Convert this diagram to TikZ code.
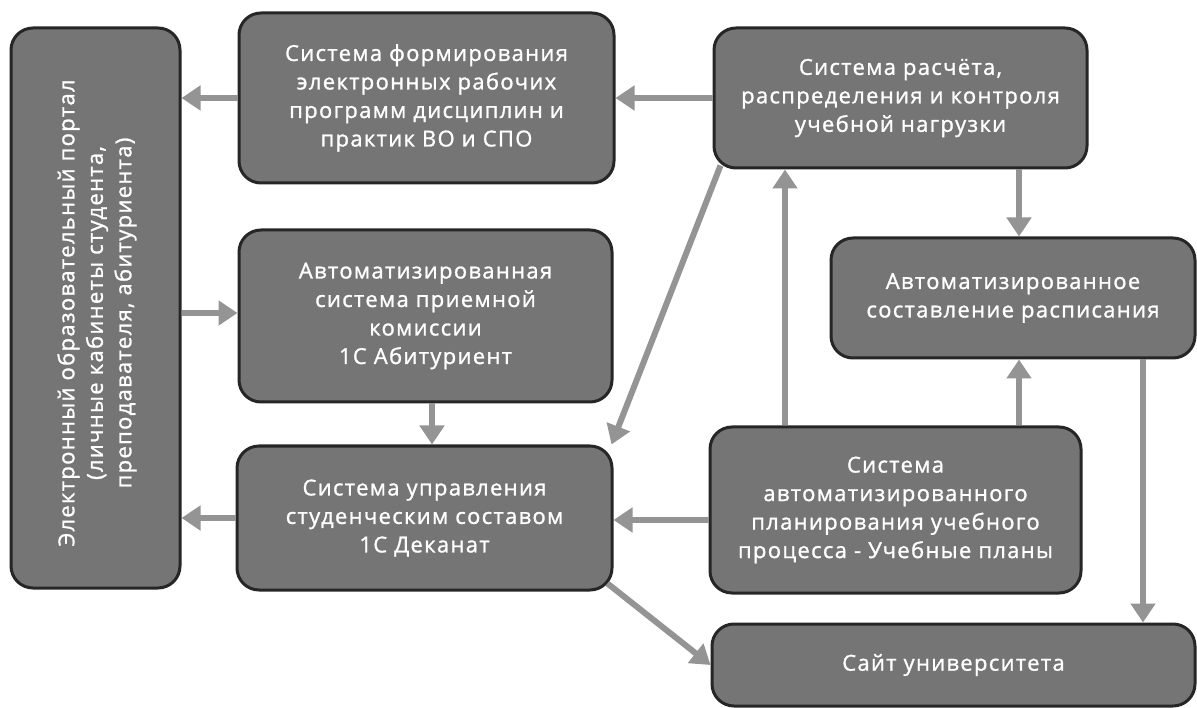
\documentclass[tikz,border=0pt]{standalone}
\usepackage{fontspec}
\setmainfont{Open Sans}[LetterSpace=6,FakeBold=1.2]
\usetikzlibrary{arrows.meta,calc}
\tikzset{
  box/.style={draw=black!85, line width=3pt, fill=black!54, rounded corners=22pt,
    text=white, align=center, font=\fontsize{22}{28.5}\selectfont, inner sep=0pt},
  conn/.style={draw=black!42, line width=6pt, -{Triangle[length=19pt,width=24pt]}},
}
\begin{document}
\begin{tikzpicture}[x=1pt,y=-1pt]
\useasboundingbox (0,0) rectangle (1197,708);
\node[box, minimum width=169pt, minimum height=560pt] (P) at (95.5,308) {};
\node[rotate=90, text=white, align=center, font=\fontsize{22}{28.5}\selectfont] (Pt) at (97,313)
  {Электронный образовательный портал\\(личные кабинеты студента,\\преподавателя, абитуриента)};
\node[box, minimum width=375pt, minimum height=170pt] (A) at (426.5,98)
  {Система формирования\\электронных рабочих\\программ дисциплин и\\практик ВО и СПО};
\node[box, minimum width=373pt, minimum height=140pt] (B) at (900.5,98)
  {Система расчёта,\\распределения и контроля\\учебной нагрузки};
\node[box, minimum width=364pt, minimum height=120pt] (C) at (1013,298)
  {Автоматизированное\\составление расписания};
\node[box, minimum width=373pt, minimum height=172pt] (F) at (425.5,316)
  {Автоматизированная\\система приемной\\комиссии\\1С Абитуриент};
\node[box, minimum width=375pt, minimum height=144pt] (E) at (424.5,518)
  {Система управления\\студенческим составом\\1С Деканат};
\node[box, minimum width=371pt, minimum height=166pt] (D) at (895.5,510)
  {Система\\автоматизированного\\планирования учебного\\процесса - Учебные планы};
\node[box, minimum width=483pt, minimum height=82pt] (S) at (953.5,665)
  {Сайт университета};
\coordinate (xDB) at (785,0);
\coordinate (xDC) at (1019,0);
\coordinate (xCS) at (1143,0);
\coordinate (xFE) at (432,0);
\coordinate (yPF) at (0,313);
\coordinate (yDE) at (0,520);
\coordinate (bs) at ($(B.south west)+(8,-4)$);
\coordinate (en) at ($(E.north east)+(-2,0)$);
\coordinate (es) at ($(E.south east)+(-6,-8)$);
\draw[conn] (A.west) -- (A.west -| P.east);
\draw[conn] (B.west) -- (A.east);
\draw[conn] (P.east |- yPF) -- (F.west |- yPF);
\draw[conn] (F.south -| xFE) -- (E.north -| xFE);
\draw[conn] (E.west) -- (E.west -| P.east);
\draw[conn] (D.west |- yDE) -- (E.east |- yDE);
\draw[conn] (bs) -- (en);
\draw[conn] (D.north -| xDB) -- (B.south -| xDB);
\draw[conn] (D.north -| xDC) -- (C.south -| xDC);
\draw[conn] (B.south -| xDC) -- (C.north -| xDC);
\draw[conn] (C.south -| xCS) -- (S.north -| xCS);
\draw[conn] (es) -- (S.west);
\end{tikzpicture}
\end{document}
